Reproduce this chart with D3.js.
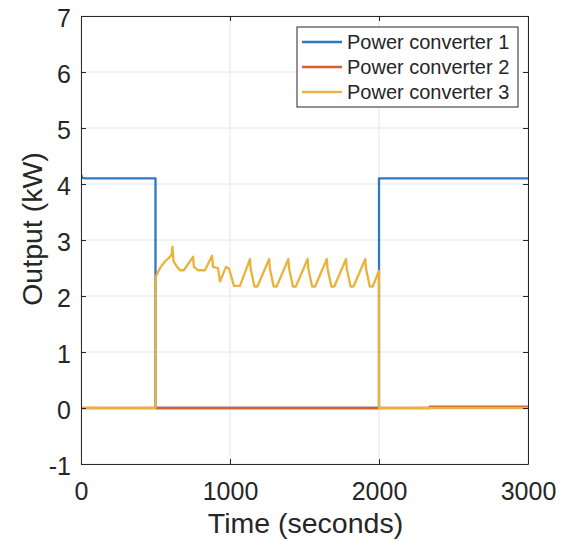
<!DOCTYPE html>
<html>
<head>
<meta charset="utf-8">
<script src="https://cdn.jsdelivr.net/npm/d3@7"></script>
<style>
  body { margin: 0; background: #fff; }
  text { font-family: "Liberation Sans", Arial, sans-serif; fill: #262626; }
</style>
</head>
<body>
<div id="chart"></div>
<script>
// chart data
const xTicks = [0, 1000, 2000, 3000];
const yTicks = [-1, 0, 1, 2, 3, 4, 5, 6, 7];
const seriesNames = ["Power converter 1", "Power converter 2", "Power converter 3"];
const seriesColors = ["#2f78c2", "#d45e2c", "#eab33c"];

const pc1Time = [0, 8, 30, 500, 500, 2000, 2000, 3000];
const pc1Value = [4.17, 4.11, 4.1, 4.1, 0, 0, 4.1, 4.1];

const pc2Time = [0, 2340, 2340, 3000];
const pc2Value = [0, 0, 0.025, 0.025];

const pc3Time = [0, 500, 500, 530, 565, 597, 608, 614, 621, 645, 665, 690, 752, 758, 785, 832,
  879, 886, 919, 933, 973, 993, 1027, 1067,
  1134, 1138, 1164, 1184, 1263, 1267, 1293, 1313, 1392, 1396, 1422, 1442,
  1521, 1525, 1551, 1571, 1650, 1654, 1680, 1700, 1779, 1783, 1809, 1829,
  1908, 1912, 1938, 1958, 2000, 2000, 3000];
const pc3Value = [0, 0, 2.33, 2.5, 2.62, 2.7, 2.74, 2.88, 2.62, 2.52, 2.46, 2.46, 2.7, 2.52, 2.46, 2.46,
  2.72, 2.52, 2.5, 2.26, 2.52, 2.49, 2.18, 2.18,
  2.66, 2.5, 2.17, 2.17, 2.66, 2.5, 2.17, 2.17, 2.66, 2.5, 2.17, 2.17,
  2.66, 2.5, 2.17, 2.17, 2.66, 2.5, 2.17, 2.17, 2.66, 2.5, 2.17, 2.17,
  2.66, 2.5, 2.17, 2.17, 2.45, 0, 0];

const width = 561, height = 546,
  margin = { top: 16, right: 33, bottom: 82, left: 81 };
const innerW = width - margin.left - margin.right,
  innerH = height - margin.top - margin.bottom;

const series = [
  { t: pc1Time, v: pc1Value },
  { t: pc2Time, v: pc2Value },
  { t: pc3Time, v: pc3Value },
].map((s, i) => ({
  name: seriesNames[i],
  color: seriesColors[i],
  points: s.t.map((t, j) => [t, s.v[j]]),
}));

const x = d3.scaleLinear().domain([0, 3000]).range([0, innerW]);
const y = d3.scaleLinear().domain([-1, 7]).range([innerH, 0]);

const svg = d3.select("#chart").append("svg")
  .attr("width", width)
  .attr("height", height);

const g = svg.append("g").attr("transform", `translate(${margin.left},${margin.top})`);

g.append("rect").attr("width", innerW).attr("height", innerH).attr("fill", "#fff");

// grid
g.append("g").selectAll("line.gx").data(xTicks).join("line")
  .attr("x1", d => x(d)).attr("x2", d => x(d))
  .attr("y1", 0).attr("y2", innerH)
  .attr("stroke", "#e6e6e6").attr("stroke-width", 1);
g.append("g").selectAll("line.gy").data(yTicks).join("line")
  .attr("x1", 0).attr("x2", innerW)
  .attr("y1", d => y(d)).attr("y2", d => y(d))
  .attr("stroke", "#e6e6e6").attr("stroke-width", 1);

// lines
svg.append("defs").append("clipPath").attr("id", "clip")
  .append("rect").attr("width", innerW).attr("height", innerH);

const line = d3.line().x(d => x(d[0])).y(d => y(d[1]));

g.append("g").attr("clip-path", "url(#clip)")
  .selectAll("path").data(series).join("path")
  .attr("d", d => line(d.points))
  .attr("fill", "none")
  .attr("stroke", d => d.color)
  .attr("stroke-width", 2.3)
  .attr("stroke-linejoin", "round");

// axes (MATLAB style: ticks inside, box on)
const axisColor = "#262626";
const tickLen = 5;
const fmt = d => String(d);
const axBottom = g.append("g").attr("transform", `translate(0,${innerH})`)
  .call(d3.axisBottom(x).tickValues(xTicks).tickFormat(fmt).tickSizeInner(-tickLen).tickSizeOuter(0).tickPadding(18));
const axLeft = g.append("g")
  .call(d3.axisLeft(y).tickValues(yTicks).tickFormat(fmt).tickSizeInner(-tickLen).tickSizeOuter(0).tickPadding(10));
const axTop = g.append("g")
  .call(d3.axisTop(x).tickValues(xTicks).tickSizeInner(-tickLen).tickSizeOuter(0).tickFormat(""));
const axRight = g.append("g").attr("transform", `translate(${innerW},0)`)
  .call(d3.axisRight(y).tickValues(yTicks).tickSizeInner(-tickLen).tickSizeOuter(0).tickFormat(""));

[axBottom, axLeft, axTop, axRight].forEach(a => {
  a.select(".domain").attr("stroke", axisColor);
  a.selectAll(".tick line").attr("stroke", axisColor);
  a.selectAll("text").attr("fill", axisColor)
    .style("font-family", '"Liberation Sans", Arial, sans-serif')
    .style("font-size", "25px");
});
axLeft.selectAll("text").attr("dy", "0.4em");

// axis labels
svg.append("text")
  .attr("x", margin.left + innerW / 2 + 1)
  .attr("y", 533)
  .attr("text-anchor", "middle")
  .style("font-size", "28.5px")
  .text("Time (seconds)");

svg.append("text")
  .attr("transform", "translate(42,229) rotate(-90)")
  .attr("text-anchor", "middle")
  .style("font-size", "28.5px")
  .text("Output (kW)");

// legend
const legend = svg.append("g").attr("transform", "translate(297,27)");
legend.append("rect")
  .attr("width", 221).attr("height", 80)
  .attr("fill", "#fff").attr("stroke", "#262626").attr("stroke-width", 1);
const rows = legend.selectAll("g.row").data(series).join("g")
  .attr("class", "row")
  .attr("transform", (d, i) => `translate(0,${15 + i * 25})`);
rows.append("line")
  .attr("x1", 5).attr("x2", 45)
  .attr("stroke", d => d.color).attr("stroke-width", 2.3);
rows.append("text")
  .attr("x", 50).attr("dy", "0.36em")
  .style("font-size", "20px")
  .attr("fill", "#000")
  .text(d => d.name);
</script>
</body>
</html>
